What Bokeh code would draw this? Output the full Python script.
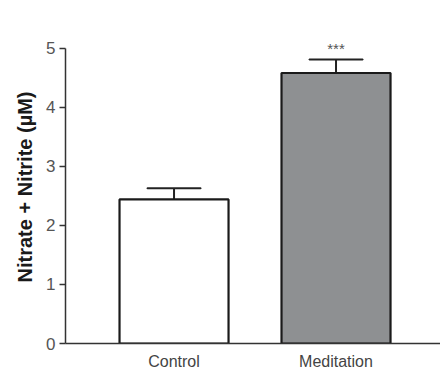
from bokeh.plotting import figure
from bokeh.models import ColumnDataSource, Range1d, FixedTicker, Label
from bokeh.embed import file_html
from bokeh.resources import INLINE

categories = ["Control", "Meditation"]
means = [2.44, 4.58]
sems = [0.19, 0.23]
fills = ["#ffffff", "#8e9092"]
significance = ["", "***"]
y_ticks = [0, 1, 2, 3, 4, 5]

xs = [i + 1 for i in range(len(categories))]
tops = [m + s for m, s in zip(means, sems)]

src = ColumnDataSource(dict(x=xs, top=means, err=tops, fill=fills))

p = figure(frame_width=375, frame_height=313, output_backend="svg", toolbar_location=None,
           x_range=Range1d(0.33, 2.645), y_range=Range1d(0, 5.3),
           min_border_left=65, min_border_right=0, min_border_top=30, min_border_bottom=28)
p.outline_line_color = None
p.grid.grid_line_color = None
p.background_fill_color = "white"

# error bars (upper only)
p.segment(x0="x", y0="top", x1="x", y1="err", source=src, line_color="#222222", line_width=2)
p.rect(x="x", y="err", width=0.33, height=0.0001, source=src, line_color="#222222", line_width=2)

p.vbar(x="x", top="top", bottom=0, width=0.673, source=src, fill_color="fill",
       line_color="#1a1a1a", line_width=2.2)

for x, t, s in zip(xs, tops, significance):
    if s:
        p.add_layout(Label(x=x, y=t + 0.04, text=s, text_align="center", text_baseline="bottom",
                           text_font="Liberation Sans", text_font_size="15px", text_color="#555555"))

p.xaxis.ticker = FixedTicker(ticks=xs)
p.xaxis.major_label_overrides = {x: c for x, c in zip(xs, categories)}
p.xaxis.major_tick_line_color = None
p.xaxis.minor_tick_line_color = None
p.xaxis.axis_line_color = "#333333"
p.xaxis.axis_line_width = 1.5
p.xaxis.major_label_text_font = "Liberation Sans"
p.xaxis.major_label_text_font_size = "16px"
p.xaxis.major_label_text_color = "#444444"
p.xaxis.major_label_standoff = 3

p.yaxis.ticker = FixedTicker(ticks=y_ticks)
p.yaxis.bounds = (0, 5)
p.yaxis.minor_tick_line_color = None
p.yaxis.major_tick_in = 0
p.yaxis.major_tick_out = 6
p.yaxis.major_tick_line_color = "#333333"
p.yaxis.major_tick_line_width = 1.5
p.yaxis.axis_line_color = "#333333"
p.yaxis.axis_line_width = 1.5
p.yaxis.major_label_text_font = "Liberation Sans"
p.yaxis.major_label_text_font_size = "17px"
p.yaxis.major_label_text_color = "#555555"
p.yaxis.major_label_standoff = 4
p.yaxis.axis_label = "Nitrate + Nitrite (\u00b5M)"
p.yaxis.axis_label_text_font = "Liberation Sans"
p.yaxis.axis_label_text_font_style = "bold"
p.yaxis.axis_label_text_font_size = "20px"
p.yaxis.axis_label_text_color = "#1a1a1a"
p.yaxis.axis_label_standoff = 7

open("out.html", "w").write(file_html(p, INLINE))
